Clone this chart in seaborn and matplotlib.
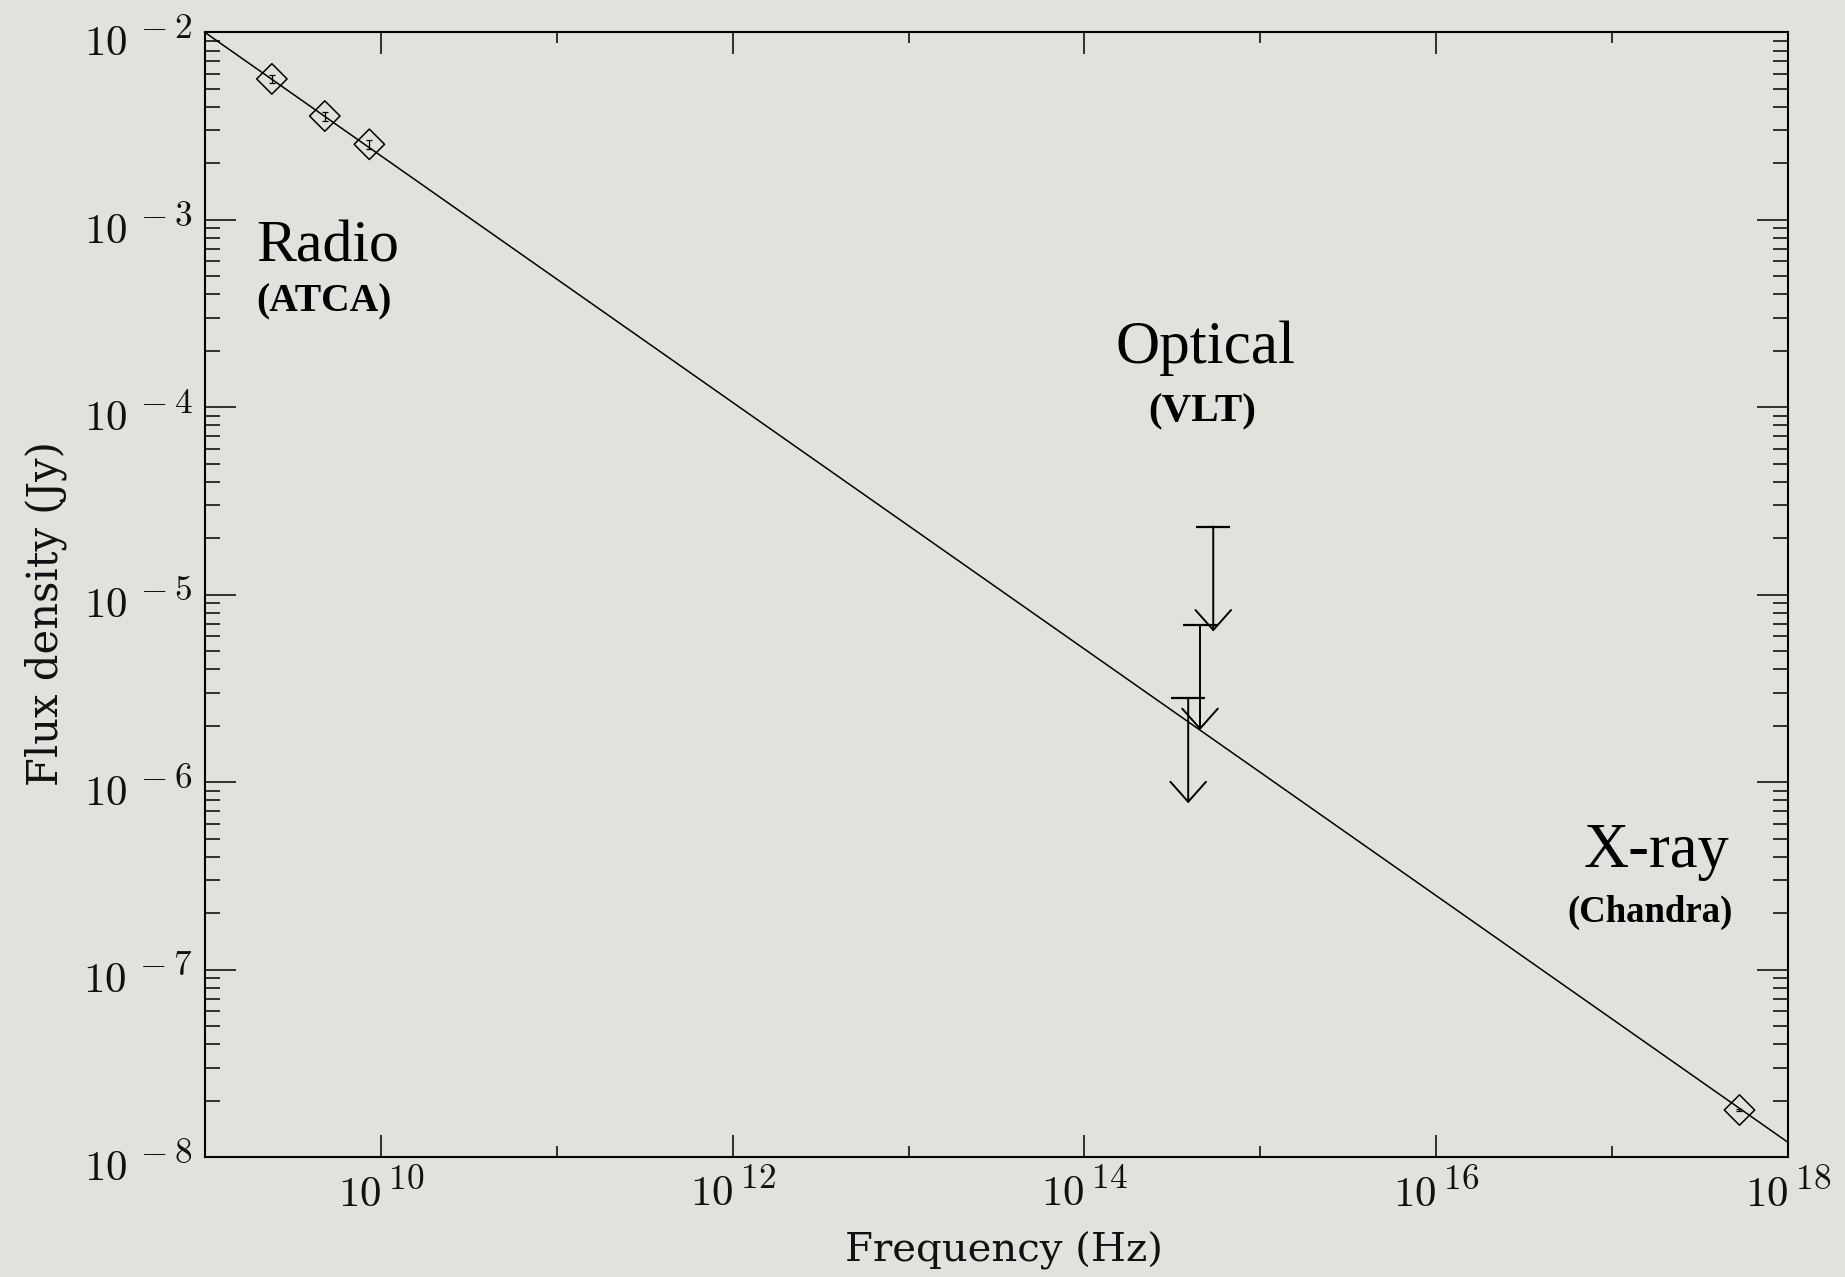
import numpy as np
import pandas as pd
import matplotlib
matplotlib.use("Agg")
import matplotlib.pyplot as plt
import matplotlib.transforms as mtransforms
import matplotlib._mathtext as mathtext_internal
from matplotlib.ticker import FixedLocator, NullFormatter, FuncFormatter
import seaborn as sns

# Detections: ATCA radio points and the Chandra X-ray point
det_band = ["Radio", "Radio", "Radio", "X-ray"]
det_freq = [2.4e9, 4.8e9, 8.6e9, 5.3e17]       # Hz
det_flux = [5.65e-3, 3.58e-3, 2.53e-3, 1.78e-8]  # Jy
det_err = [0.30e-3, 0.20e-3, 0.14e-3, 0.15e-9]

# VLT optical upper limits
lim_freq = [3.89e14, 4.54e14, 5.40e14]  # Hz
lim_flux = [2.80e-6, 6.88e-6, 2.31e-5]  # Jy
arrow_drop_dex = 0.56

# Single power law through radio and X-ray
fit_alpha = -0.658
fit_norm = 1.0e-2   # Jy at the reference frequency
fit_ref = 1.0e9     # Hz
fit_range = [1e9, 1e18]

x_major = [1e10, 1e12, 1e14, 1e16, 1e18]
x_minor = [1e11, 1e13, 1e15, 1e17]
y_major = [1e-8, 1e-7, 1e-6, 1e-5, 1e-4, 1e-3, 1e-2]
y_minor = [d * k for d in y_major[:-1] for k in range(2, 10)]

bg = "#e2e1dd"

# larger exponents in the power-of-ten labels
mathtext_internal.SHRINK_FACTOR = 0.82

sns.set_theme(style="ticks")
plt.rcParams["font.family"] = ["DejaVu Serif"]
plt.rcParams["mathtext.fontset"] = "cm"
plt.rcParams["axes.linewidth"] = 1.5
plt.rcParams["axes.edgecolor"] = "black"

fig = plt.figure(figsize=(18.45, 12.77), dpi=100, facecolor=bg)
ax = fig.add_axes([0.1111, 0.0940, 0.8580, 0.8806])
ax.set_facecolor(bg)

det = pd.DataFrame({"band": det_band, "freq": det_freq, "flux": det_flux, "err": det_err})
lim = pd.DataFrame({"freq": lim_freq, "flux": lim_flux})

nu = np.logspace(np.log10(fit_range[0]), np.log10(fit_range[1]), 60)
fit = pd.DataFrame({"freq": nu, "flux": fit_norm * (nu / fit_ref) ** fit_alpha})

sns.lineplot(data=fit, x="freq", y="flux", color="black", linewidth=1.1, ax=ax, zorder=2)

# small error bars inside the diamonds
ax.errorbar(det["freq"], det["flux"], yerr=det["err"], fmt="none", ecolor="black",
            elinewidth=0.9, capsize=2, capthick=0.9, zorder=3)
sns.scatterplot(data=det, x="freq", y="flux", marker="D", s=240, facecolor="none",
                edgecolor="black", linewidth=1.1, ax=ax, zorder=4)

# upper limits: bar at the limit and an open arrow pointing down
sns.scatterplot(data=lim, x="freq", y="flux", marker="_", s=600, color="black",
                linewidth=1.6, ax=ax, zorder=4)
for f, s in zip(lim["freq"], lim["flux"]):
    ax.annotate("", xy=(f, s * 10 ** (-arrow_drop_dex)), xytext=(f, s),
                arrowprops=dict(arrowstyle="->,head_length=0.72,head_width=0.64",
                                mutation_scale=20, color="black", lw=1.4,
                                shrinkA=0, shrinkB=0), zorder=4)

ax.set_xscale("log")
ax.set_yscale("log")
ax.set_xlim(fit_range[0], fit_range[1])
ax.set_ylim(y_major[0], y_major[-1])

fmt = FuncFormatter(lambda v, p: r"$10^{\,%d}$" % int(round(np.log10(v))))
ax.xaxis.set_major_locator(FixedLocator(x_major))
ax.xaxis.set_minor_locator(FixedLocator(x_minor))
ax.xaxis.set_major_formatter(fmt)
ax.xaxis.set_minor_formatter(NullFormatter())
ax.yaxis.set_major_locator(FixedLocator(y_major))
ax.yaxis.set_minor_locator(FixedLocator(y_minor))
ax.yaxis.set_major_formatter(fmt)
ax.yaxis.set_minor_formatter(NullFormatter())

ax.tick_params(which="both", direction="in", top=True, right=True, color="black", width=1.1,
               labelcolor="#111111")
ax.tick_params(axis="y", which="major", length=22, labelsize=31, pad=9)
ax.tick_params(axis="y", which="minor", length=11)
ax.tick_params(axis="x", which="major", length=16, labelsize=31, pad=9)
ax.tick_params(axis="x", which="minor", length=8)
for sp in ax.spines.values():
    sp.set_visible(True)
    sp.set_color("black")

# y tick labels sit slightly below their ticks
shift = mtransforms.ScaledTranslation(0, -5 / 100, fig.dpi_scale_trans)
for lab in ax.get_yticklabels():
    lab.set_transform(lab.get_transform() + shift)

ax.set_xlabel("Frequency (Hz)", fontsize=29, color="#111111")
ax.set_ylabel("Flux density (Jy)", fontsize=30, color="#111111")
ax.xaxis.set_label_coords(0.505, -0.0929)
ax.xaxis.label.set_va("baseline")
ax.yaxis.set_label_coords(-0.087, 0.483)

title_font = dict(family=["Liberation Serif"], color="black", ha="center", va="baseline",
                  transform=ax.transAxes)
ax.text(0.0774, 0.796, "Radio", fontsize=43, **title_font)
ax.text(0.0749, 0.752, "(ATCA)", fontsize=28.5, fontweight="bold", **title_font)
ax.text(0.632, 0.706, "Optical", fontsize=44, **title_font)
ax.text(0.630, 0.654, "(VLT)", fontsize=29.5, fontweight="bold", **title_font)
ax.text(0.917, 0.258, "X-ray", fontsize=45, **title_font)
ax.text(0.913, 0.209, "(Chandra)", fontsize=26.5, fontweight="bold", **title_font)

fig.savefig("out.png", dpi=100, facecolor=bg)
